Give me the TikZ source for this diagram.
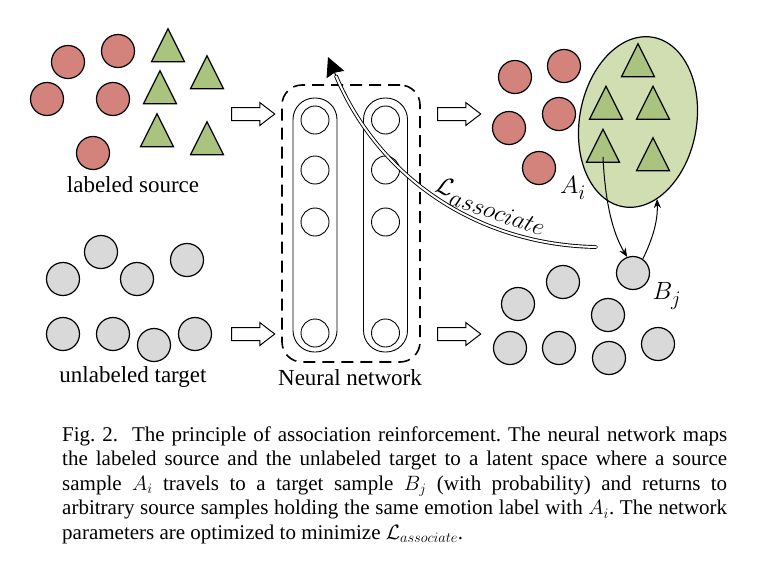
\documentclass[tikz,border=0pt]{standalone}
\usepackage{fontspec}
\setmainfont{Liberation Serif}
\usetikzlibrary{shapes.geometric, shapes.arrows, positioning, arrows.meta}

\definecolor{srcred}{RGB}{212,131,124}
\definecolor{srcgreen}{RGB}{170,196,127}
\definecolor{grpgreen}{RGB}{208,222,178}
\definecolor{tgtgrey}{RGB}{217,217,217}

\begin{document}
\frenchspacing
\begin{tikzpicture}[
x=1pt, y=-1pt,
    redpt/.style={draw, circle, line width=1.2pt, fill=srcred, minimum size=33pt, inner sep=0pt},
    greypt/.style={draw, circle, line width=1.2pt, fill=tgtgrey, minimum size=33pt, inner sep=0pt},
    tript/.style={draw, isosceles triangle, isosceles triangle stretches, shape border rotate=90, line width=1.2pt, fill=srcgreen, minimum width=33pt, minimum height=33pt, inner sep=0pt},
    neuron/.style={draw, circle, line width=0.9pt, fill=white, minimum size=28pt, inner sep=0pt},
    layer/.style={draw, rectangle, line width=0.9pt, rounded corners=21.5pt, minimum width=44pt, minimum height=254pt},
    netbox/.style={draw, rectangle, line width=1.6pt, dash pattern=on 12pt off 7pt, rounded corners=20pt, minimum width=138pt, minimum height=277pt},
    maparrow/.style={draw, single arrow, line width=1pt, minimum height=43pt, inner xsep=0pt, inner ysep=6pt, single arrow head extend=5pt, single arrow tip angle=75},
    lbl/.style={font=\fontsize{23}{26}\selectfont},
    mathlbl/.style={font=\fontsize{30}{34}\selectfont},
    flow/.style={draw, -{Stealth[length=9pt,width=7pt]}, line width=1pt}
]
\useasboundingbox (0,0) rectangle (762,560);

    % --- Left: labeled source ---
    \foreach \p [count=\k] in {(68,62),(118,51),(47,99),(113,99),(93,153)}
        \node[redpt] (sl\k) at \p {};
    \foreach \p [count=\k] in {(168,51.5),(207,78.5),(160,93.5),(157,136.5),(207,144.5)}
        \node[tript] (tl\k) at \p {};
    \node[lbl] (srclbl) at (133,185) {labeled source};

    % --- Left: unlabeled target ---
    \foreach \p [count=\k] in {(63,279),(101,252),(137,279),(187,260),(63,334),(113,334),(154,345),(195,334)}
        \node[greypt] (gl\k) at \p {};
    \node[lbl] (tgtlbl) at (133,377) {unlabeled target};

    % --- Mapping arrows ---
    \node[maparrow] (insrc) at (249,114) {};
    \node[maparrow] (intgt) at (249,334) {};
    \node[maparrow] (outsrc) at (455,114) {};
    \node[maparrow] (outtgt) at (455,334) {};

    % --- Neural network ---
    \node[netbox] (net) at (351,223.5) {};
    \node[layer] (lay1) at (315,225) {};
    \node[layer] (lay2) at (385.5,225) {};
    \foreach \y [count=\k] in {120,170,222,333} {
        \node[neuron] (na\k) at (315,\y) {};
        \node[neuron] (nb\k) at (385.5,\y) {};
    }
    \node[lbl] (netlbl) at (350,378) {Neural network};

    % --- Right: latent space, source ---
    \node[draw, ellipse, line width=1.2pt, fill=grpgreen, minimum width=117pt, minimum height=172pt, rotate=-10] (grp) at (638,122) {};
    \foreach \p [count=\k] in {(515,77),(564,66),(509,128),(559,114),(539,168)}
        \node[redpt] (sr\k) at \p {};
    \foreach \p [count=\k] in {(638,66.5),(606,109),(653,109),(603,152),(653,160.5)}
        \node[tript] (tr\k) at \p {};
    \node[mathlbl] (ai) at (573,188) {$A_i$};

    % --- Right: latent space, target ---
    \foreach \p [count=\k] in {(518,304),(563,282),(608,315),(510,348),(559,348),(609,358),(658,344)}
        \node[greypt] (gr\k) at \p {};
    \node[greypt] (bj) at (633,273) {};
    \node[mathlbl] (bjlbl) at (667,296) {$B_j$};

    % --- Association walk ---
    \coordinate (astart) at (603,157);
    \coordinate (aback) at (657,199);
    \draw[flow] (astart) .. controls (605,200) and (612,232) .. (bj.110);
    \draw[flow] (bj.55) .. controls (652,240) and (658,222) .. (aback);

    % --- Loss back to the network ---
    \coordinate (lstart) at (596,247);
    \coordinate (lneck) at (336,76);
    \coordinate (ltip) at (328,57);
    \draw[double, line width=0.9pt, double distance=2pt, line cap=round] (lstart) .. controls (480,245) and (380,180) .. (lneck);
    \draw[-{Stealth[length=19pt,width=19pt,inset=2pt]}, line width=1pt] (lneck) -- (ltip);
    \node[rotate=-19, font=\fontsize{28}{30}\selectfont] (loss) at (491,206) {$\mathcal{L}_{\mbox{\fontsize{24}{26}\selectfont$associate$}}$};

    % --- Caption ---
    \node[anchor=north west, inner sep=0pt, text width=665pt, align=justify, font=\fontsize{21}{24.5}\selectfont] (caption) at (62,426.5)
        {Fig. 2.\ \ The principle of association reinforcement. The neural network maps\linebreak
        the labeled source and the unlabeled target to a latent space where a source\linebreak
        sample $A_i$ travels to a target sample $B_j$ (with probability) and returns to\linebreak
        arbitrary source samples holding the same emotion label with $A_i$. The network\linebreak
        parameters are optimized to minimize $\mathcal{L}_{associate}$.};

\end{tikzpicture}
\end{document}
